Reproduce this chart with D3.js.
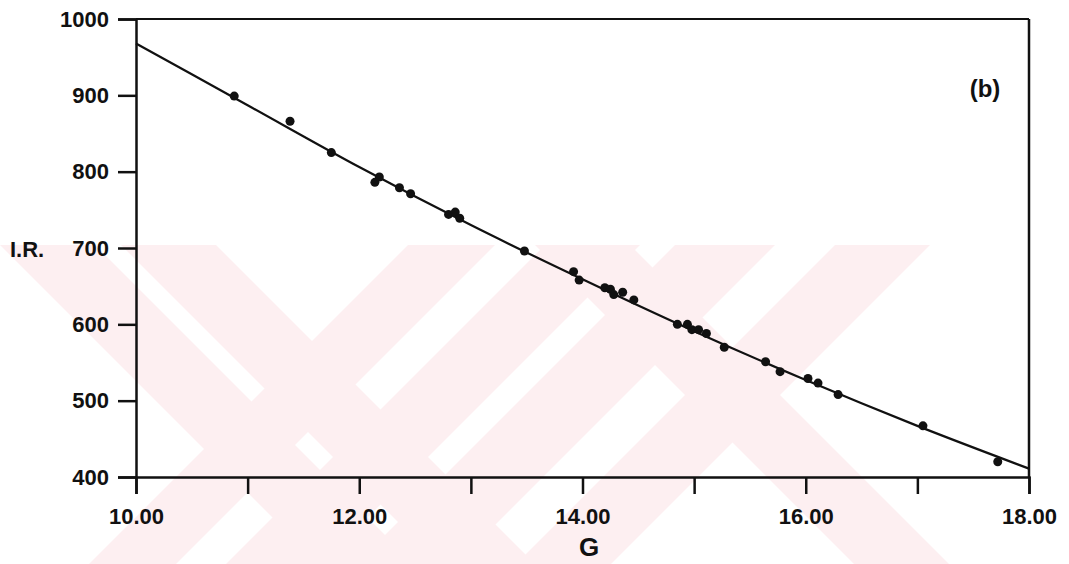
<!DOCTYPE html>
<html>
<head>
<meta charset="utf-8">
<script src="https://cdn.jsdelivr.net/npm/d3@7"></script>
<style>
  body { margin: 0; background: #fff; }
  svg text { font-family: "Liberation Sans", Arial, sans-serif; font-weight: bold; fill: #111; }
</style>
</head>
<body>
<svg id="chart" width="1069" height="564"></svg>
<script>
// Measured points (G, I.R.)
var gValues = [10.88, 11.38, 11.75, 12.14, 12.18, 12.36, 12.46, 12.80, 12.86, 12.90,
               13.48, 13.92, 13.97, 14.20, 14.25, 14.28, 14.36, 14.46, 14.85, 14.94,
               14.98, 15.04, 15.11, 15.27, 15.64, 15.77, 16.02, 16.11, 16.29, 17.05, 17.72];
var irValues = [899, 866, 825, 786, 793, 779, 771, 744, 747, 739,
                696, 669, 658, 648, 646, 639, 642, 632, 600, 600,
                593, 593, 588, 570, 551, 538, 529, 523, 508, 467, 420];

// Fitted curve
var fitG  = [10, 11, 12, 13, 14, 15, 16, 17, 18];
var fitIR = [968, 887, 806, 730, 659, 591, 527, 467, 411];

// Axis ticks
var xTicks = [10, 11, 12, 13, 14, 15, 16, 17, 18];
var xTickLabels = ["10.00", "", "12.00", "", "14.00", "", "16.00", "", "18.00"];
var yTicks = [400, 500, 600, 700, 800, 900, 1000];

function drawChart() {
    // Plot box
    var plotLeft = 136, plotRight = 1029,
        plotTop = 19, plotBottom = 477;

    var svg = d3.select("#chart");

    // Faint watermark behind the chart
    svg.append("clipPath").attr("id", "wmclip")
        .append("rect").attr("x", 0).attr("y", 245).attr("width", 1000).attr("height", 320);
    var wm = svg.append("g").attr("fill", "#fdeff1").attr("clip-path", "url(#wmclip)");
    var y0 = 245, y1 = 564;
    // bands along "\" (x - y = c) and "/" (x + y = c)
    var backBands = [[-245, -150], [-124, -29], [290, 385]];
    var fwdBands = [[653, 740], [790, 885], [920, 1020], [1080, 1175]];
    backBands.forEach(function(b) {
        wm.append("polygon").attr("points", [
            [b[0] + y0, y0], [b[1] + y0, y0], [b[1] + y1, y1], [b[0] + y1, y1]
        ].join(" "));
    });
    fwdBands.forEach(function(b) {
        wm.append("polygon").attr("points", [
            [b[0] - y0, y0], [b[1] - y0, y0], [b[1] - y1, y1], [b[0] - y1, y1]
        ].join(" "));
    });

    // Scales
    var x = d3.scaleLinear().domain([10, 18]).range([plotLeft, plotRight]);
    var y = d3.scaleLinear().domain([400, 1000]).range([plotBottom, plotTop]);

    // Frame (top and right)
    svg.append("line")
        .attr("x1", x(10)).attr("x2", x(18)).attr("y1", y(1000)).attr("y2", y(1000))
        .attr("stroke", "#111").attr("stroke-width", 2.2);
    svg.append("line")
        .attr("x1", x(18)).attr("x2", x(18)).attr("y1", y(1000)).attr("y2", y(400))
        .attr("stroke", "#111").attr("stroke-width", 2.5);

    // Axes
    var xAxis = svg.append("g")
        .attr("transform", "translate(0," + plotBottom + ")")
        .call(d3.axisBottom(x).tickValues(xTicks).tickSize(17).tickPadding(14)
            .tickFormat(function(d, i) { return xTickLabels[i]; }));
    var yAxis = svg.append("g")
        .attr("transform", "translate(" + plotLeft + ",0)")
        .call(d3.axisLeft(y).tickValues(yTicks).tickSize(18).tickPadding(9)
            .tickFormat(d3.format("d")));

    [xAxis, yAxis].forEach(function(a) {
        a.select(".domain").attr("stroke", "#111").attr("stroke-width", 2.5);
        a.selectAll(".tick line").attr("stroke", "#111").attr("stroke-width", 2.5);
        a.selectAll(".tick text").attr("font-size", 22).attr("fill", "#111")
            .style("font-family", "'Liberation Sans', Arial, sans-serif").style("font-weight", "bold");
    });
    xAxis.selectAll(".tick text").attr("dy", "0.71em");

    // Axis titles
    svg.append("text").attr("x", 10).attr("y", 257).attr("font-size", 22).text("I.R.");
    svg.append("text").attr("x", 589).attr("y", 556).attr("font-size", 26)
        .attr("text-anchor", "middle").text("G");
    svg.append("text").attr("x", 985).attr("y", 97).attr("font-size", 24)
        .attr("text-anchor", "middle").text("(b)");

    // Fitted curve
    var line = d3.line()
        .x(function(d) { return x(d[0]); })
        .y(function(d) { return y(d[1]); })
        .curve(d3.curveMonotoneX);
    svg.append("path")
        .datum(d3.zip(fitG, fitIR))
        .attr("d", line)
        .attr("fill", "none")
        .attr("stroke", "#111")
        .attr("stroke-width", 2.2);

    // Points
    svg.append("g")
        .selectAll("circle")
        .data(d3.zip(gValues, irValues))
        .enter()
        .append("circle")
        .attr("cx", function(d) { return x(d[0]); })
        .attr("cy", function(d) { return y(d[1]); })
        .attr("r", 4.5)
        .attr("fill", "#111");
}

drawChart();
</script>
</body>
</html>
